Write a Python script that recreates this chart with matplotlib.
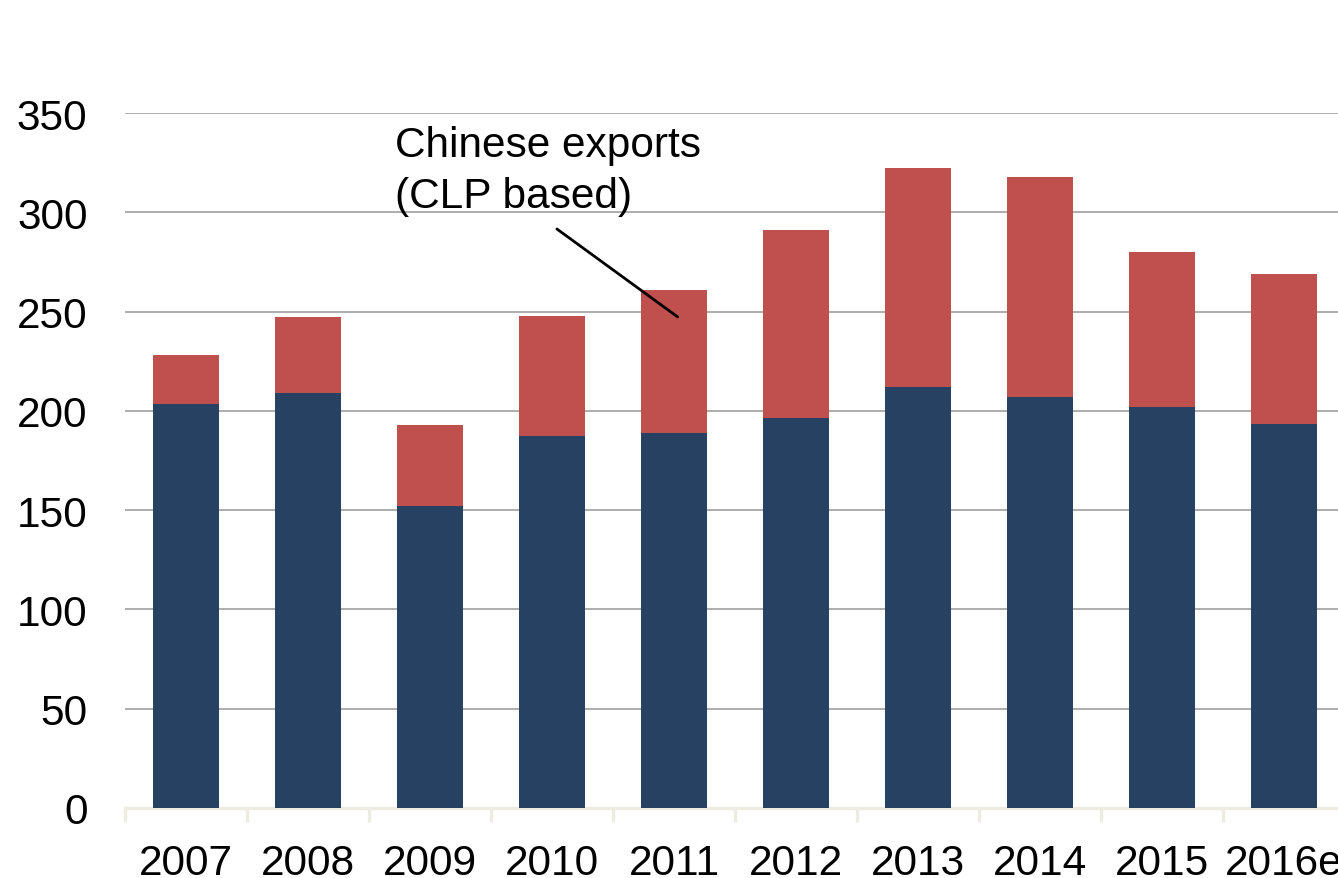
import numpy as np
import matplotlib
matplotlib.use("Agg")
import matplotlib.pyplot as plt

years = ["2007", "2008", "2009", "2010", "2011", "2012", "2013", "2014", "2015", "2016e"]
domestic = [203.5, 209.0, 152.1, 187.3, 188.8, 196.4, 212.0, 207.0, 201.9, 193.4]
total = [228.1, 247.3, 192.9, 247.8, 260.9, 291.1, 322.3, 317.8, 280.0, 268.9]
exports = [t - d for t, d in zip(total, domestic)]

plt.rcParams['font.family'] = ['Liberation Sans', 'DejaVu Sans']

fig = plt.figure(figsize=(13.38, 8.79), dpi=100)
ax = fig.add_axes([125 / 1338, 70 / 879, 1220 / 1338, 695 / 879])

x = np.arange(len(years))
ax.bar(x, domestic, width=0.54, color="#264161", zorder=3)
ax.bar(x, exports, width=0.54, bottom=domestic, color="#C0504D", zorder=3)

ax.set_xlim(-0.5, len(years) - 0.5)
ax.set_ylim(0, 350)
ax.set_yticks(np.arange(0, 351, 50))
ax.yaxis.grid(True, color="#A0A0A0", linewidth=1.2, zorder=0)
ax.set_axisbelow(True)

for s in ["top", "right", "left"]:
    ax.spines[s].set_visible(False)
ax.spines["bottom"].set_color("#EEECE1")
ax.spines["bottom"].set_linewidth(2.4)

ax.set_xticks(x)
ax.set_xticklabels(years)
ax.set_xticks(np.arange(-0.5, len(years), 1.0), minor=True)
ax.tick_params(axis="x", which="major", length=0, pad=25, labelsize=30.5)
ax.tick_params(axis="x", which="minor", length=10, width=2.4, color="#EEECE1")
ax.tick_params(axis="y", length=0, pad=27, labelsize=30.5)

# label for the exports segment, with a leader line into the 2011 bar
ax.text(1.71, 298, "Chinese exports\n(CLP based)", fontsize=30.5,
        ha="left", va="bottom", linespacing=1.35)
ax.annotate("", xy=(4.03, 247.3), xytext=(3.04, 291.6),
            arrowprops=dict(arrowstyle="-", color="black", lw=2,
                            shrinkA=0, shrinkB=0))

fig.savefig("out.png", dpi=100)
